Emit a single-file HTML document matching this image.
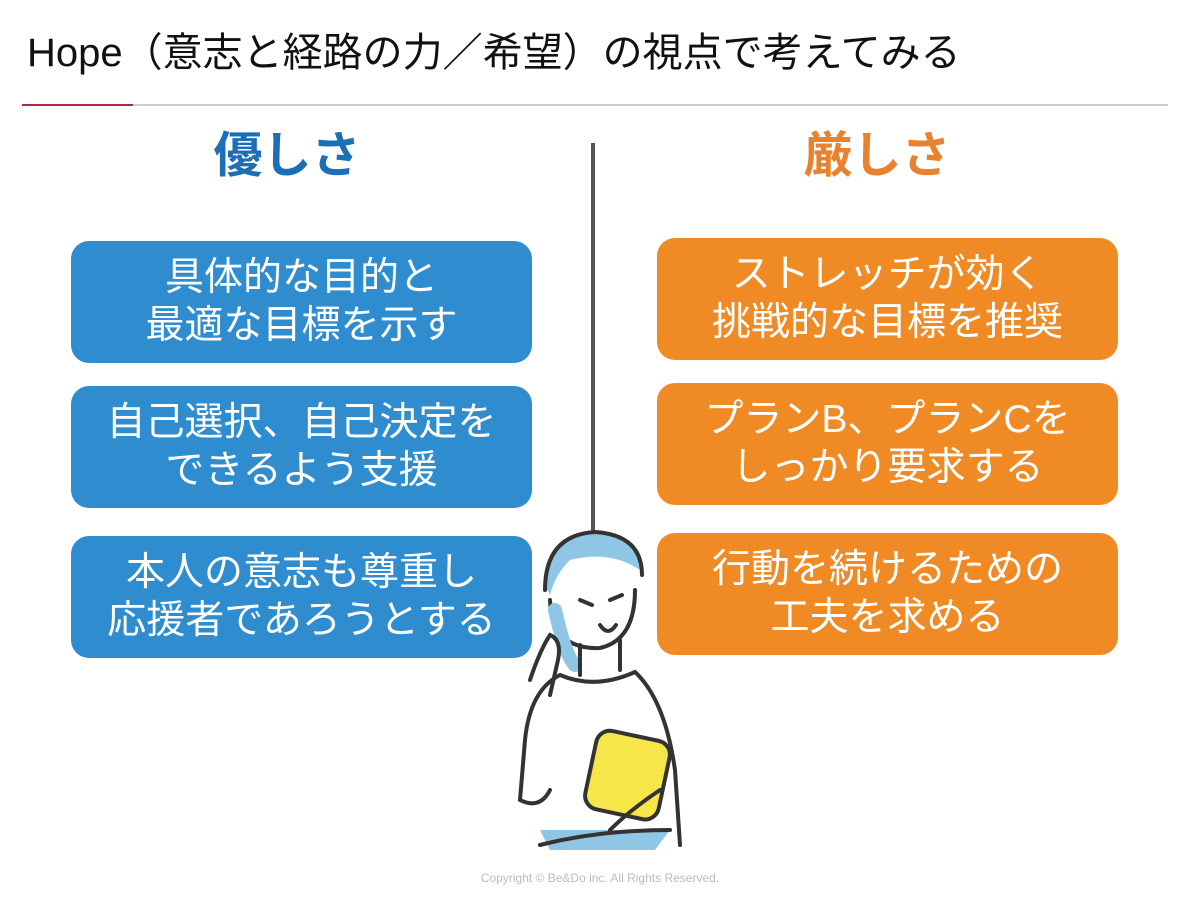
<!DOCTYPE html>
<html><head><meta charset="utf-8"><style>
body{margin:0;width:1200px;height:900px;background:#fff;position:relative;overflow:hidden;font-family:"Liberation Sans","Noto Sans CJK JP",sans-serif}
.t{position:absolute;left:27px;top:20px;font-size:40px;color:#111;white-space:nowrap}
.h{position:absolute;top:116px;font-size:49px;font-weight:bold;width:300px;text-align:center}
.b{position:absolute;width:461px;height:122px;border-radius:18px;color:#fff;font-size:39px;line-height:48px;display:flex;align-items:center;justify-content:center;text-align:center;white-space:nowrap}
.bl{left:71px;background:#2e8ccf}.or{left:657px;background:#ef8a24}
</style></head><body>
<div class="t">Hope（意志と経路の力／希望）の視点で考えてみる</div>
<div style="position:absolute;left:22px;top:104px;width:111px;height:2px;background:#b0283a"></div>
<div style="position:absolute;left:133px;top:104px;width:1035px;height:2px;background:#ccc"></div>
<div class="h" style="left:137px;color:#1c6fb6">優しさ</div>
<div class="h" style="left:727px;color:#e8822f">厳しさ</div>
<div style="position:absolute;left:591px;top:143px;width:4px;height:400px;background:#555"></div>
<div class="b bl" style="top:241px">具体的な目的と<br>最適な目標を示す</div>
<div class="b bl" style="top:386px">自己選択、自己決定を<br>できるよう支援</div>
<div class="b bl" style="top:536px">本人の意志も尊重し<br>応援者であろうとする</div>
<div class="b or" style="top:238px">ストレッチが効く<br>挑戦的な目標を推奨</div>
<div class="b or" style="top:383px">プランB、プランCを<br>しっかり要求する</div>
<div class="b or" style="top:533px">行動を続けるための<br>工夫を求める</div>
<svg style="position:absolute;left:470px;top:500px" width="260" height="360" viewBox="0 0 260 360" fill="none" stroke="#333" stroke-width="4" stroke-linecap="round">
<path d="M75 85 Q80 35 125 32 Q170 35 172 80 L170 70 Q140 50 100 60 Q85 75 80 95Z" fill="#8fc6e6" stroke="none"/>
<path d="M80 100 Q82 150 130 148 Q165 140 165 90"/>
<path d="M75 90 Q75 35 125 32 Q172 35 172 75"/>
<path d="M85 110 Q95 155 105 165" stroke="#8fc6e6" stroke-width="14"/>
<path d="M110 100 l12 5 M140 100 l12 -5 M130 125 q8 12 16 0"/>
<path d="M110 145 L110 175 M150 140 L150 170"/>
<path d="M90 175 Q125 190 165 172 Q195 200 205 270 L210 345 M90 175 Q60 190 55 240 L50 300 Q70 310 80 290"/>
<path d="M60 180 Q70 150 80 135 Q92 140 88 160 L80 195"/>
<path d="M70 330 L80 350 L185 350 L200 330" fill="#8fc6e6" stroke="none"/>
<path d="M70 345 Q130 330 200 330"/>
<rect x="120" y="235" width="75" height="80" rx="14" fill="#f7e64a" transform="rotate(12 157 275)"/>
<path d="M140 330 Q160 310 190 290"/>
</svg>
<div style="position:absolute;left:0;width:1200px;top:871px;text-align:center;font-size:12px;color:#bbb">Copyright © Be&amp;Do inc. All Rights Reserved.</div>
</body></html>
